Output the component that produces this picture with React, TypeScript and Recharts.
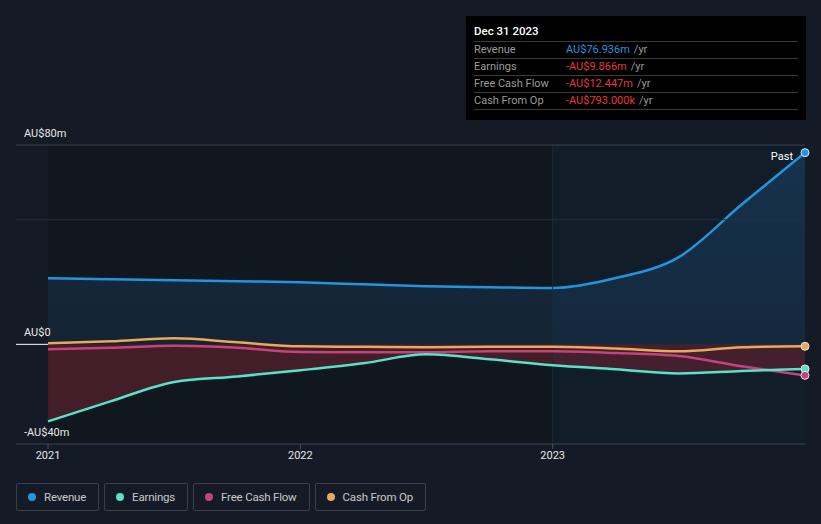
import React from 'react';
import {
  ComposedChart,
  Area,
  Line,
  XAxis,
  YAxis,
  ReferenceArea,
  ReferenceLine,
  ReferenceDot,
} from 'recharts';

// quarter-ends as fractional years
const periods = [2021.0, 2021.25, 2021.5, 2021.75, 2022.0, 2022.25, 2022.5, 2022.75, 2023.0, 2023.25, 2023.5, 2023.75, 2024.0];
const revenue = [26.5, 26.1, 25.7, 25.3, 24.9, 24.1, 23.3, 22.9, 22.6, 26.6, 35.0, 56.2, 76.936];
const earnings = [-30.9, -22.8, -15.1, -12.9, -10.4, -7.6, -4.0, -6.0, -8.4, -10.0, -11.7, -10.7, -9.866];
const freeCashFlow = [-2.0, -1.4, -0.6, -1.4, -3.1, -3.2, -3.2, -2.8, -2.8, -3.5, -4.7, -8.8, -12.447];
const cashFromOp = [0.4, 1.2, 2.4, 0.8, -0.8, -1.0, -1.2, -1.0, -1.0, -1.7, -2.8, -1.2, -0.793];

const xTicks = [2021, 2022, 2023];
const yTicks = [-40, 0, 80];
const yLabels = ['-AU$40m', 'AU$0', 'AU$80m'];

const series = [
  { key: 'revenue', name: 'Revenue', color: '#2394df' },
  { key: 'earnings', name: 'Earnings', color: '#58e2c8' },
  { key: 'fcf', name: 'Free Cash Flow', color: '#c4437c' },
  { key: 'cfo', name: 'Cash From Op', color: '#e8a95a' },
];

const tooltipRows = [
  { label: 'Revenue', value: 'AU$76.936m', color: '#2394df' },
  { label: 'Earnings', value: '-AU$9.866m', color: '#e4393c' },
  { label: 'Free Cash Flow', value: '-AU$12.447m', color: '#e4393c' },
  { label: 'Cash From Op', value: '-AU$793.000k', color: '#e4393c' },
];

const data = periods.map((t, i) => ({
  t,
  revenue: revenue[i],
  earnings: earnings[i],
  fcf: freeCashFlow[i],
  cfo: cashFromOp[i],
}));

const last = data[data.length - 1];
const FONT = 'Roboto, "Noto Sans", sans-serif';

// y labels sit just above their line, at the left edge
const yLabel = (text: string) => (props: any) => {
  const { viewBox } = props;
  return (
    <text x={24} y={viewBox.y - 8} fill="#e6e6e6" fontSize={11} fontFamily={FONT}>
      {text}
    </text>
  );
};

const PastLabel = (props: any) => {
  const { viewBox } = props;
  return (
    <text x={viewBox.x - 8} y={viewBox.y + 11} fill="#ffffff" fontSize={11} fontFamily={FONT} textAnchor="end">
      Past
    </text>
  );
};

export default function App() {
  return (
    <div style={{ position: 'fixed', left: 0, top: 0, width: 821, height: 524, background: '#151b26', fontFamily: FONT }}>
      <ComposedChart width={821} height={524} data={data} margin={{ top: 145, right: 16, bottom: 50, left: 16 }}>
        <defs>
          <linearGradient id="revFill" x1="0" y1="0" x2="0" y2="1">
            <stop offset="0%" stopColor="#1f64a0" stopOpacity={0.5} />
            <stop offset="100%" stopColor="#1f5d94" stopOpacity={0.3} />
          </linearGradient>
        </defs>
        <XAxis
          type="number"
          dataKey="t"
          domain={[2020.873, 2024]}
          ticks={xTicks}
          tickFormatter={(v) => String(v)}
          stroke="#3d4350"
          tick={{ fill: '#e6e6e6', fontSize: 11, fontFamily: FONT }}
          tickLine={{ stroke: '#4a505c' }}
          tickSize={5}
          height={30}
          allowDataOverflow
        />
        <YAxis type="number" domain={[-40, 80]} ticks={yTicks} hide allowDataOverflow />
        <ReferenceArea x1={2021} x2={2023} y1={-40} y2={80} fill="#0d1117" fillOpacity={0.4} stroke="none" />
        <ReferenceArea x1={2023} x2={2024} y1={-40} y2={80} fill="#121d2a" fillOpacity={1} stroke="none" />
        <ReferenceLine x={2023} stroke="#1d2a38" />
        <ReferenceLine y={yTicks[2]} stroke="#3a404c" label={yLabel(yLabels[2])} />
        <ReferenceLine y={50} stroke="#243040" />
        <ReferenceLine y={yTicks[0]} stroke="none" label={yLabel(yLabels[0])} />
        <ReferenceLine
          segment={[{ x: 2020.873, y: 0 }, { x: 2021, y: 0 }]}
          stroke="#ffffff"
        />
        <ReferenceLine y={yTicks[1]} stroke="none" label={yLabel(yLabels[1])} />
        <Area
          type="monotone"
          dataKey="revenue"
          stroke="#2394df"
          strokeWidth={2.5}
          fill="url(#revFill)"
          baseValue={0}
          dot={false}
          activeDot={false}
          isAnimationActive={false}
        />
        <Area
          type="monotone"
          dataKey="earnings"
          stroke="none"
          fill="#8b2635"
          fillOpacity={0.42}
          baseValue={0}
          dot={false}
          activeDot={false}
          isAnimationActive={false}
        />
        <Line type="monotone" dataKey="cfo" stroke="#e8a95a" strokeWidth={2.5} dot={false} activeDot={false} isAnimationActive={false} />
        <Line type="monotone" dataKey="fcf" stroke="#c4437c" strokeWidth={2.5} dot={false} activeDot={false} isAnimationActive={false} />
        <Line type="monotone" dataKey="earnings" stroke="#58e2c8" strokeWidth={2.5} dot={false} activeDot={false} isAnimationActive={false} />
        <ReferenceDot x={last.t} y={last.cfo} r={4} fill="#e8a95a" stroke="#f0e6d8" strokeWidth={1} />
        <ReferenceDot x={last.t} y={last.earnings} r={4} fill="#58e2c8" stroke="#e0f5f0" strokeWidth={1} />
        <ReferenceDot x={last.t} y={last.fcf} r={4} fill="#c4437c" stroke="#f3dde8" strokeWidth={1} />
        <ReferenceDot x={last.t} y={last.revenue} r={4} fill="#2394df" stroke="#dceaf7" strokeWidth={1} label={<PastLabel />} />
      </ComposedChart>

      {/* static tooltip box */}
      <div style={{ position: 'absolute', left: 466, top: 16, width: 340, height: 104, background: '#000', boxSizing: 'border-box', padding: '0 8px' }}>
        <div style={{ color: '#fff', fontSize: 11.5, fontWeight: 500, height: 25, lineHeight: '30px' }}>Dec 31 2023</div>
        <div style={{ borderTop: '1px solid #3a3a3a' }}>
          {tooltipRows.map((r) => (
            <div key={r.label} style={{ display: 'flex', height: 16, lineHeight: '16px', fontSize: 11, borderBottom: '1px solid #3a3a3a' }}>
              <span style={{ width: 92, color: '#9a9a9a' }}>{r.label}</span>
              <span style={{ color: r.color }}>{r.value}</span>
              <span style={{ color: '#9a9a9a', marginLeft: 4 }}>/yr</span>
            </div>
          ))}
        </div>
      </div>

      {/* legend */}
      <div style={{ position: 'absolute', left: 16, top: 483, display: 'flex', gap: 5 }}>
        {series.map((s) => (
          <div
            key={s.key}
            style={{
              height: 26,
              border: '1px solid #3a3f4a',
              borderRadius: 2,
              display: 'flex',
              alignItems: 'center',
              padding: '0 12px 0 11px',
              color: '#c8c8c8',
              fontSize: 11.5,
              letterSpacing: -0.2,
            }}
          >
            <span style={{ width: 8, height: 8, borderRadius: 4, background: s.color, marginRight: 8 }} />
            {s.name}
          </div>
        ))}
      </div>
    </div>
  );
}
